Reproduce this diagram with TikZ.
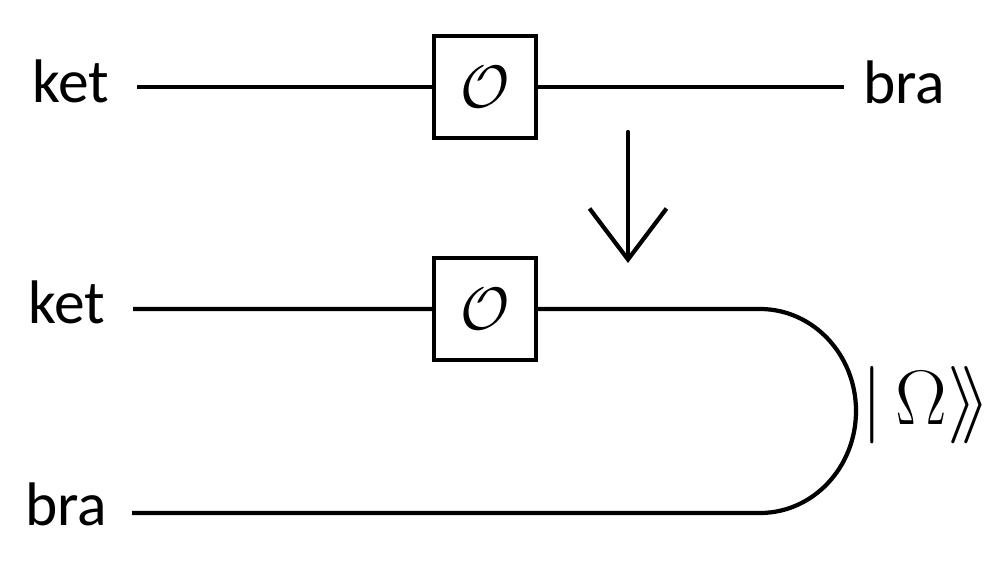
\documentclass[tikz,border=0pt]{standalone}
\usepackage{graphicx}
\usepackage{fontspec}
\setmainfont{Carlito}
\usetikzlibrary{arrows.meta}
\tikzset{
  wire/.style={line width=2.4pt},
  opbox/.style={draw, line width=2.4pt, minimum width=2.04cm, minimum height=2.04cm,
    inner sep=0pt},
  lbl/.style={inner sep=0pt, font=\fontsize{35}{42}\selectfont},
}
\newcommand{\opsym}{\scalebox{1.37}{\Huge$\mathcal{O}$}}
\begin{document}
\begin{tikzpicture}[x=0.02cm, y=0.02cm]
  \useasboundingbox (0,0) rectangle (1004,576);
  % top row
  \node[opbox] (opA) at (485,489) {\opsym};
  \coordinate (inA) at (137,489);
  \coordinate (outA) at (844,489);
  \node[lbl, anchor=base west] (ketA) at (32,474) {ket};
  \node[lbl, anchor=base west] (braA) at (863,473) {bra};
  \draw[wire] (inA) -- (opA) -- (outA);
  % arrow between rows
  \coordinate (arrTop) at (628,444);
  \coordinate (arrTip) at (628,313);
  \draw[wire, line cap=round, -{Straight Barb[length=1.02cm, width=1.54cm]}] (arrTop) -- (arrTip);
  % bottom row, bent back
  \node[opbox] (opB) at (485,267) {\opsym};
  \coordinate (inB) at (133,267);
  \coordinate (turnTop) at (760,267);
  \coordinate (inC) at (132,63);
  \node[lbl, anchor=base west] (ketB) at (28,253) {ket};
  \node[lbl, anchor=base west] (braB) at (25,51) {bra};
  \draw[wire] (inB) -- (opB) -- (turnTop)
    arc[start angle=90, end angle=-90, x radius=96, y radius=102] -- (inC);
  \node[inner sep=0pt] (omega) at (926,171)
    {\scalebox{1.77}{\Huge$|\,\Omega\rangle\mkern-4mu\rangle$}};
\end{tikzpicture}
\end{document}
